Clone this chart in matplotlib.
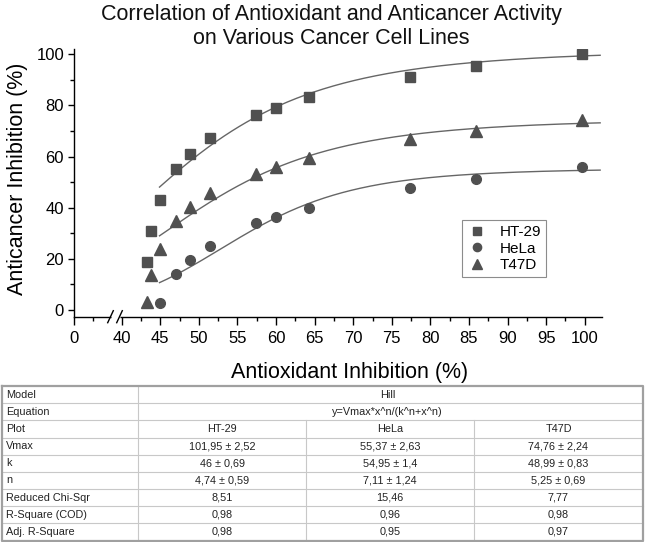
import numpy as np
import matplotlib
matplotlib.use('Agg')
import matplotlib.pyplot as plt
from matplotlib.ticker import FixedLocator, NullFormatter

plt.rcParams['font.family'] = ['Liberation Sans', 'DejaVu Sans']

# ---------------- data ----------------
x_ht29 = [43.3, 43.8, 44.9, 47.1, 48.9, 51.4, 57.4, 60.0, 64.3, 77.3, 85.9, 99.6]
y_ht29 = [18.8, 30.8, 42.8, 55.0, 61.0, 67.1, 76.2, 79.2, 83.2, 91.2, 95.4, 100.1]
x_hela = [44.9, 47.1, 48.9, 51.4, 57.4, 60.0, 64.3, 77.3, 85.9, 99.6]
y_hela = [2.7, 13.9, 19.5, 25.1, 33.8, 36.4, 39.9, 47.5, 51.2, 55.8]
x_t47d = [43.3, 43.8, 44.9, 47.1, 48.9, 51.4, 57.4, 60.0, 64.3, 77.3, 85.9, 99.6]
y_t47d = [3.1, 13.6, 24.0, 34.8, 40.1, 45.6, 53.1, 56.0, 59.3, 66.7, 70.1, 74.3]

series_names = ['HT-29', 'HeLa', 'T47D']
fit_vmax = [101.95, 55.37, 74.76]
fit_k = [46.0, 54.95, 48.99]
fit_n = [4.74, 7.11, 5.25]
fit_start, fit_end = 44.9, 102.0

x_major = [0, 40, 45, 50, 55, 60, 65, 70, 75, 80, 85, 90, 95, 100]
x_minor = [2.5, 42.5, 47.5, 52.5, 57.5, 62.5, 67.5, 72.5, 77.5, 82.5, 87.5, 92.5, 97.5]
y_major = [0, 20, 40, 60, 80, 100]
y_minor = [10, 30, 50, 70, 90]

row_labels = ['Model', 'Equation', 'Plot', 'Vmax', 'k', 'n',
              'Reduced Chi-Sqr', 'R-Square (COD)', 'Adj. R-Square']
model_name = 'Hill'
equation_txt = 'y=Vmax*x^n/(k^n+x^n)'
vmax_txt = ['101,95 ± 2,52', '55,37 ± 2,63', '74,76 ± 2,24']
k_txt = ['46 ± 0,69', '54,95 ± 1,4', '48,99 ± 0,83']
n_txt = ['4,74 ± 0,59', '7,11 ± 1,24', '5,25 ± 0,69']
chi_txt = ['8,51', '15,46', '7,77']
r2_txt = ['0,98', '0,96', '0,98']
adjr2_txt = ['0,98', '0,95', '0,97']

# ---------------- broken x scale ----------------
X40 = 6.18
C = (X40 - 5.0) / 35.0


def fwd(x):
    x = np.asarray(x, dtype=float)
    return np.where(x <= 5, x, np.where(x < 40, 5 + (x - 5) * C, x - 40 + X40))


def inv(y):
    y = np.asarray(y, dtype=float)
    return np.where(y <= 5, y, np.where(y < X40, 5 + (y - 5) / C, y + 40 - X40))


W, H = 645, 542
fig = plt.figure(figsize=(W / 100, H / 100), dpi=100)

ax_l, ax_r, ax_t, ax_b = 74, 601.7, 49.3, 316.7
ax = fig.add_axes([ax_l / W, 1 - ax_b / H, (ax_r - ax_l) / W, (ax_b - ax_t) / H])
ax.set_xscale('function', functions=(fwd, inv))
ax.set_xlim(0, 102.2)
ax.set_ylim(-2.7, 102)

mcol = '#505050'
lcol = '#666666'
marker_style = {'HT-29': ('s', 6.5), 'HeLa': ('o', 7.0), 'T47D': ('^', 8.2)}
xs = [x_ht29, x_hela, x_t47d]
ys = [y_ht29, y_hela, y_t47d]

xf = np.linspace(fit_start, fit_end, 300)
for name, vm, kk, nn in zip(series_names, fit_vmax, fit_k, fit_n):
    yf = vm * xf ** nn / (kk ** nn + xf ** nn)
    ax.plot(xf, yf, color=lcol, lw=1.0, zorder=2)

handles = []
for name, x, y in zip(series_names, xs, ys):
    m, ms = marker_style[name]
    h, = ax.plot(x, y, linestyle='none', marker=m, ms=ms, color=mcol,
                 mec=mcol, label=name, zorder=3)
    handles.append(h)

for s in ['top', 'right']:
    ax.spines[s].set_visible(False)
for s in ['left', 'bottom']:
    ax.spines[s].set_linewidth(1.0)

ax.xaxis.set_major_locator(FixedLocator(x_major))
ax.xaxis.set_minor_locator(FixedLocator(x_minor))
ax.xaxis.set_minor_formatter(NullFormatter())
ax.set_xticklabels([str(v) for v in x_major])
ax.yaxis.set_major_locator(FixedLocator(y_major))
ax.yaxis.set_minor_locator(FixedLocator(y_minor))
ax.set_yticklabels([str(v) for v in y_major])
ax.tick_params(axis='x', which='major', direction='out', length=5.5, width=1.0,
               labelsize=12, pad=4.5)
ax.tick_params(axis='y', which='major', direction='out', length=4.2, width=1.0,
               labelsize=12, pad=3)
ax.tick_params(which='minor', direction='out', length=2.8, width=1.0)

# axis break marks
bx1 = (110.5 - ax_l) / (ax_r - ax_l)
bx2 = (119.5 - ax_l) / (ax_r - ax_l)
ax.plot([bx1, bx2], [0, 0], transform=ax.transAxes, color='white', lw=2.5,
        clip_on=False, zorder=5, solid_capstyle='butt')
dx, dy = 2.8 / (ax_r - ax_l), 6.0 / (ax_b - ax_t)
for bx in (bx1, bx2):
    ax.plot([bx - dx, bx + dx], [-dy, dy], transform=ax.transAxes,
            color='black', lw=1.0, clip_on=False, zorder=6)

ax.set_xlabel('Antioxidant Inhibition (%)', fontsize=15.5)
ax.xaxis.set_label_coords((349.5 - ax_l) / (ax_r - ax_l), (ax_b - 362) / (ax_b - ax_t))
ax.set_ylabel('Anticancer Inhibition (%)', fontsize=15.5)
ax.yaxis.set_label_coords((28 - ax_l) / (ax_r - ax_l), (ax_b - 178.4) / (ax_b - ax_t))

leg = ax.legend(handles=handles, loc='upper left',
                bbox_to_anchor=((462 - ax_l) / (ax_r - ax_l), (ax_b - 220) / (ax_b - ax_t)),
                borderaxespad=0, fontsize=11, frameon=True, fancybox=False,
                edgecolor='#707070', handlelength=1.2, handletextpad=0.9,
                labelspacing=0.15, borderpad=0.35, markerscale=0.85)
leg.get_frame().set_linewidth(0.8)

fig.text(331.7 / W, 1 - 26.5 / H,
         'Correlation of Antioxidant and Anticancer Activity\non Various Cancer Cell Lines',
         ha='center', va='center', fontsize=15.5, linespacing=1.2, color='#111111')

# ---------------- table ----------------
tax = fig.add_axes([0, 0, 1, 1])
tax.set_xlim(0, W)
tax.set_ylim(H, 0)
tax.axis('off')
tax.patch.set_alpha(0)

t_top, t_bot = 386.0, 540.5
t_left, t_right = 2.0, 643.0
col_x = [t_left, 138.0, 306.0, 474.0, t_right]
nrows = len(row_labels)
rh = (t_bot - t_top) / nrows
inner = '#c8c8c8'
for i in range(1, nrows):
    yy = t_top + i * rh
    tax.plot([t_left, t_right], [yy, yy], color=inner, lw=0.8)
tax.plot([col_x[1], col_x[1]], [t_top, t_bot], color=inner, lw=0.8)
for cx in col_x[2:4]:
    tax.plot([cx, cx], [t_top + 2 * rh, t_bot], color=inner, lw=0.8)
tax.plot([t_left, t_right, t_right, t_left, t_left],
         [t_top, t_top, t_bot, t_bot, t_top], color='#a0a0a0', lw=1.6)

fs_t = 7.8
centers = [(col_x[j] + col_x[j + 1]) / 2 for j in range(1, 4)]
merged_c = (col_x[1] + t_right) / 2 - 3
cells = [None, None, series_names, vmax_txt, k_txt, n_txt, chi_txt, r2_txt, adjr2_txt]
for i, lab in enumerate(row_labels):
    yc = t_top + (i + 0.5) * rh
    tax.text(6, yc, lab, ha='left', va='center', fontsize=fs_t, color='#222222')
    if i == 0:
        tax.text(merged_c, yc, model_name, ha='center', va='center', fontsize=fs_t, color='#222222')
    elif i == 1:
        tax.text(merged_c, yc, equation_txt, ha='center', va='center', fontsize=fs_t, color='#222222')
    else:
        for cx, txt in zip(centers, cells[i]):
            tax.text(cx, yc, txt, ha='center', va='center', fontsize=fs_t, color='#222222')

fig.savefig('out.png', dpi=100)
